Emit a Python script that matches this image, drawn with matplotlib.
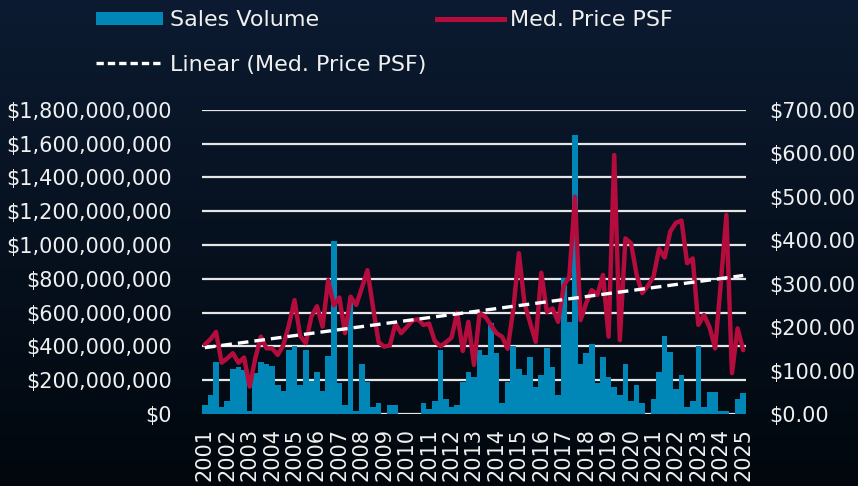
import numpy as np
import matplotlib
matplotlib.use("Agg")
import matplotlib.pyplot as plt
from matplotlib.ticker import FuncFormatter, FixedLocator
from matplotlib.colors import LinearSegmentedColormap
from matplotlib.patches import Patch
from matplotlib.lines import Line2D

# ---- data (quarterly, 2001 Q1 .. 2025 Q1) ----
years = [str(y) for y in range(2001, 2026)]

sales_volume_m = [
    53, 112, 309, 41, 75, 264, 280, 258, 20, 240, 309, 298, 285, 171, 136, 378,
    402, 171, 378, 194, 250, 136, 345, 1025, 181, 53, 690, 20, 296, 191, 39, 63,
    0, 53, 53, 0, 0, 0, 0, 63, 28, 77, 379, 87, 39, 53, 191, 250,
    217, 381, 347, 536, 359, 65, 191, 402, 264, 231, 335, 162, 231, 392, 276, 111,
    803, 546, 1650, 296, 359, 414, 185, 335, 217, 160, 112, 298, 78, 171, 63, 0,
    87, 250, 461, 368, 147, 230, 39, 77, 403, 39, 133, 133, 16, 16, 0, 87,
    122,
]

med_price_psf = [
    160, 172, 189, 118, 128, 140, 118, 130, 63, 128, 178, 151, 151, 136, 158, 205,
    262, 180, 163, 224, 248, 201, 308, 250, 268, 186, 270, 251, 290, 331, 245, 165,
    155, 158, 208, 186, 200, 215, 218, 205, 208, 168, 156, 165, 176, 233, 145, 212,
    113, 232, 224, 205, 186, 178, 150, 240, 370, 255, 210, 166, 325, 235, 243, 212,
    295, 316, 500, 216, 255, 285, 274, 320, 178, 596, 170, 404, 393, 320, 278, 295,
    316, 380, 360, 420, 440, 445, 347, 358, 205, 228, 200, 151, 300, 458, 94, 197,
    147,
]

left_ticks = [0, 200e6, 400e6, 600e6, 800e6, 1000e6, 1200e6, 1400e6, 1600e6, 1800e6]
right_ticks = [0, 100, 200, 300, 400, 500, 600, 700]

# ---- styling ----
BG_TOP = "#0c1b31"
BG_BOT = "#01070d"
BAR_C = "#0087b7"
LINE_C = "#b40c3c"
TXT_C = "#f0f0f0"
GRID_C = "#e6e6e6"
FS = 15

plt.rcParams["font.family"] = ["DejaVu Sans"]

fig = plt.figure(figsize=(8.58, 4.86), dpi=100)

# background gradient
bg = fig.add_axes([0, 0, 1, 1], zorder=-10)
cmap = LinearSegmentedColormap.from_list("bg", [BG_TOP, BG_BOT])
grad = np.linspace(0, 1, 256).reshape(-1, 1)
bg.imshow(grad, aspect="auto", cmap=cmap, extent=[0, 1, 0, 1], origin="upper")
bg.set_axis_off()

left, right = 202 / 858, 746 / 858
bottom, top = (486 - 414) / 486, (486 - 109.8) / 486
ax = fig.add_axes([left, bottom, right - left, top - bottom])
ax.patch.set_alpha(0)

n = len(sales_volume_m)
x = np.arange(n)
vol = np.array(sales_volume_m) * 1e6
price = np.array(med_price_psf, dtype=float)

ax.set_axisbelow(True)
ax.bar(x, vol, width=1.0, color=BAR_C, linewidth=0, zorder=2)
ax.set_xlim(-0.5, n - 0.5)
ax.set_ylim(0, 1.8e9)
ax.yaxis.set_major_locator(FixedLocator(left_ticks))
ax.yaxis.set_major_formatter(FuncFormatter(lambda v, p: f"${v:,.0f}"))
ax.grid(axis="y", color=GRID_C, linewidth=1.6, zorder=0)
ax.grid(axis="x", visible=False)

ax.set_xticks(x[::4])
ax.set_xticklabels(years, rotation=90)

for s in ax.spines.values():
    s.set_visible(False)
ax.tick_params(axis="both", length=0, colors=TXT_C, labelsize=FS)
ax.tick_params(axis="y", pad=21.5)
ax.tick_params(axis="x", pad=10)

ax2 = ax.twinx()
ax2.patch.set_alpha(0)
ax2.set_ylim(0, 700)
ax2.yaxis.set_major_locator(FixedLocator(right_ticks))
ax2.yaxis.set_major_formatter(FuncFormatter(lambda v, p: f"${v:,.2f}"))
for s in ax2.spines.values():
    s.set_visible(False)
ax2.tick_params(axis="y", length=0, colors=TXT_C, labelsize=FS, pad=17)

ax2.plot(x, price, color=LINE_C, linewidth=3.2, solid_joinstyle="round",
         solid_capstyle="round", zorder=3)

coef = np.polyfit(x, price, 1)
trend = np.polyval(coef, x)
ax2.plot(x, trend, color="white", linewidth=2.4, linestyle=(0, (3.2, 1.8)),
         zorder=4)

handles = [
    Patch(facecolor=BAR_C, edgecolor="none", label="Sales Volume"),
    Line2D([], [], color="white", linewidth=2.4, linestyle=(0, (2.2, 1.2)),
           label="Linear (Med. Price PSF)"),
    Line2D([], [], color=LINE_C, linewidth=3.6, label="Med. Price PSF"),
]
leg = fig.legend(handles=handles, ncol=2, loc="upper left",
                 bbox_to_anchor=(83 / 858, 1 + 3 / 486), frameon=False,
                 fontsize=FS + 1, labelcolor=TXT_C, handlelength=3.0,
                 handleheight=0.55, handletextpad=0.3, columnspacing=0.5,
                 labelspacing=1.1, borderaxespad=0.2)

fig.savefig("out.png", dpi=100, facecolor=BG_TOP)
